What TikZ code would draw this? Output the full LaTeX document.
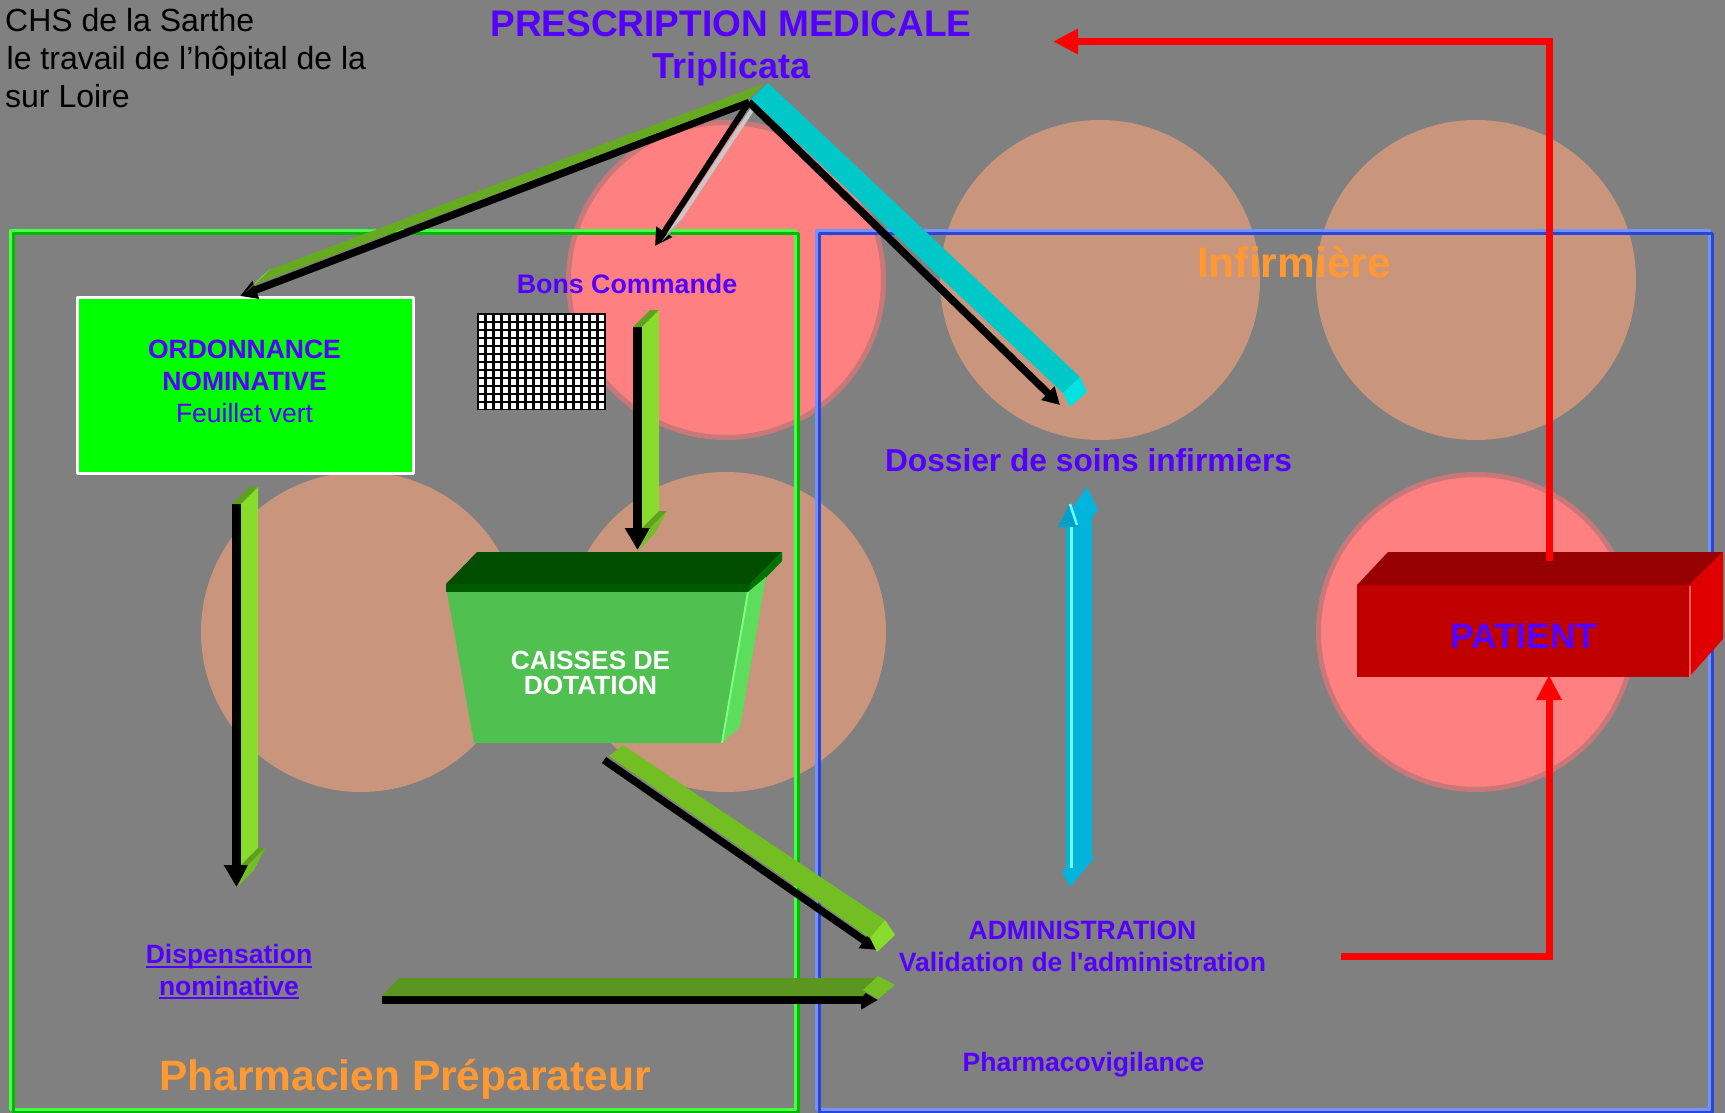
\documentclass[tikz,border=0pt]{standalone}
\usepackage{fontspec}
\setmainfont{Liberation Sans}[Ligatures=TeXOff]
\usetikzlibrary{arrows.meta}

\definecolor{bgGray}{RGB}{128,128,128}
\definecolor{txtBlue}{RGB}{85,0,255}
\definecolor{roleOrange}{RGB}{255,153,51}
\definecolor{pinkDisc}{RGB}{255,128,128}
\definecolor{pinkRim}{RGB}{200,120,120}
\definecolor{tanDisc}{RGB}{201,150,125}
\definecolor{frameGreen}{RGB}{70,255,70}
\definecolor{frameGreenDk}{RGB}{0,185,0}
\definecolor{frameBlue}{RGB}{115,145,255}
\definecolor{frameBlueDk}{RGB}{40,70,220}
\definecolor{ordGreen}{RGB}{0,255,0}
\definecolor{barGreen}{RGB}{102,170,34}
\definecolor{barLime}{RGB}{136,221,44}
\definecolor{barDeep}{RGB}{95,160,30}
\definecolor{barMid}{RGB}{115,190,35}
\definecolor{barOlive}{RGB}{90,150,32}
\definecolor{barGray}{RGB}{200,200,200}
\definecolor{cyanBar}{RGB}{0,200,200}
\definecolor{cyanCap}{RGB}{0,225,225}
\definecolor{skyBar}{RGB}{0,180,220}
\definecolor{skyDark}{RGB}{0,160,200}
\definecolor{skyLight}{RGB}{110,255,255}
\definecolor{caisseTop}{RGB}{0,77,0}
\definecolor{caisseSlab}{RGB}{0,90,0}
\definecolor{caisseSlabSide}{RGB}{0,115,0}
\definecolor{caisseFront}{RGB}{80,192,80}
\definecolor{caisseSide}{RGB}{92,222,92}
\definecolor{caisseEdge}{RGB}{125,255,125}
\definecolor{patFront}{RGB}{192,0,0}
\definecolor{patTop}{RGB}{150,0,0}
\definecolor{patSide}{RGB}{224,0,0}
\definecolor{patEdge}{RGB}{255,90,90}

\tikzset{
  lbl/.style={inner sep=0pt, anchor=base, text=txtBlue, font=\fontsize{26.5}{30}\selectfont\bfseries},
  role/.style={inner sep=0pt, anchor=base, text=roleOrange, font=\fontsize{42.5}{48}\selectfont\bfseries},
  chs/.style={inner sep=0pt, anchor=base west, text=black, font=\fontsize{32}{36}\selectfont},
  blackfront/.style={black, line width=#1, -{Triangle[length=17pt,width=18pt]}},
  blackfront/.default=7.5pt,
  blackdrop/.style={black, line width=9pt, -{Triangle[length=22pt,width=24pt]}},
  redline/.style={red, line width=7pt, line join=miter, -{Triangle[length=25pt,width=24pt]}},
  pinkdisc/.style={fill=pinkDisc, draw=pinkRim, line width=5pt},
}

\begin{document}
\begin{tikzpicture}[x=1pt, y=-1pt, line join=round]
\useasboundingbox (0,0) rectangle (1725,1113);
\clip (0,0) rectangle (1725,1113);
\fill[bgGray] (0,0) rectangle (1725,1113);

% discs
\fill[tanDisc] (1100,280) circle (160);
\fill[tanDisc] (1476,280) circle (160);
\fill[tanDisc] (361,632) circle (160);
\fill[tanDisc] (726,632) circle (160);
\filldraw[pinkdisc] (726,280) circle (157.5);
\filldraw[pinkdisc] (1476,632) circle (157.5);

% frames
\draw[frameGreen, line width=3pt] (10.5,230.5) rectangle (795.5,1109.5);
\draw[frameGreenDk, line width=3pt] (13.5,233.5) rectangle (798.5,1112.5);
\draw[frameBlue, line width=3pt] (816.5,230.5) rectangle (1709.5,1109.5);
\draw[frameBlueDk, line width=3pt] (819.5,233.5) rectangle (1712.5,1112.5);

% ordonnance sheet and grid
\node[draw=white, fill=ordGreen, line width=3pt, inner sep=0pt,
  minimum width=336pt, minimum height=176pt] (ordo) at (245,385) {};
\fill[black] (476.5,313) rectangle (605.5,409.5);
\foreach \i in {0,...,15}
  \foreach \j in {0,...,11}
    \fill[white] ({478.5+8*\i},{315+8*\j}) rectangle ++(5.5,5.5);

% caisse
\fill[caisseTop] (446,584) -- (477,552) -- (782,552) -- (750,584) -- cycle;
\fill[caisseSlab] (446,584) rectangle (750,592);
\fill[caisseSlabSide] (750,584) -- (782,552) -- (782,561) -- (752,592) -- (750,592) -- cycle;
\fill[caisseFront] (447,592) -- (748,592) -- (722,743) -- (474,743) -- cycle;
\fill[caisseSide] (748,592) -- (766,577) -- (740,727) -- (722,743) -- cycle;
\draw[caisseEdge, line width=2pt] (748,592) -- (722,743);

% patient
\fill[patFront] (1357,585) rectangle (1689,677);
\fill[patTop] (1357,585) -- (1388,552) -- (1723,552) -- (1689,585) -- cycle;
\fill[patSide] (1689,585) -- (1723,552) -- (1723,639) -- (1689,677) -- cycle;
\draw[patEdge, line width=2pt] (1690,586) -- (1690,677);

% arrow ends
\coordinate (apex) at (749,102);
\coordinate (ordoTip) at (240,296);
\coordinate (bonsTip) at (655,246);
\coordinate (dossierTip) at (1060,405);
\coordinate (bonsTail) at (637.5,327);
\coordinate (caisseTip) at (637.5,550);
\coordinate (ordoTail) at (236.5,504);
\coordinate (dispTip) at (236.5,887);
\coordinate (caisseTail) at (604,760);
\coordinate (adminTipA) at (878,950);
\coordinate (dispTail) at (382,1000);
\coordinate (adminTipB) at (878,1000);
\coordinate (patTopPt) at (1549,561);
\coordinate (presTip) at (1053,41.5);
\coordinate (adminTail) at (1341,956);
\coordinate (patBotPt) at (1549,675);

% prescription -> ordonnance
\draw[blackfront] (apex) -- (ordoTip);
\fill[barGreen] (749,98.5) -- (255,284.5) -- (270,269.5) -- (764,83.5) -- cycle;
\fill[barLime] (255,284) -- (246,292) -- (261,277) -- (270,269) -- cycle;
% prescription -> bons
\draw[blackfront=6pt] (apex) -- (bonsTip);
\fill[barGray] (752,106) -- (667,234) -- (682,219) -- (767,91) -- cycle;
\fill[barGray!85!black] (667,234) -- (662,241) -- (677,226) -- (682,219) -- cycle;
% prescription -> dossier
\draw[blackfront] (apex) -- (dossierTip);
\fill[cyanBar] (751,99) -- (1063,393) -- (1080,377) -- (768,83) -- cycle;
\fill[cyanCap] (1063,393) -- (1080,377) -- (1087,392) -- (1070,407) -- cycle;

% bons -> caisse
\draw[blackdrop] (bonsTail) -- (caisseTip);
\fill[barDeep] (633,327) -- (642,327) -- (659,310) -- (650,310) -- cycle;
\fill[barLime] (642,327) -- (642,528) -- (659,511) -- (659,310) -- cycle;
\fill[barDeep] (642,528) -- (650,528) -- (667,511) -- (659,511) -- cycle;
\fill[barMid] (650,528) -- (667,511) -- (655,533) -- (638,550) -- cycle;

% ordonnance -> dispensation
\draw[blackdrop] (ordoTail) -- (dispTip);
\fill[barDeep] (232,504) -- (241,504) -- (258,487) -- (249,487) -- cycle;
\fill[barLime] (241,504) -- (241,865) -- (258,848) -- (258,487) -- cycle;
\fill[barDeep] (241,865) -- (248,865) -- (265,848) -- (258,848) -- cycle;
\fill[barMid] (248,865) -- (265,848) -- (254,870) -- (237,887) -- cycle;

% caisse -> administration
\draw[blackfront] (caisseTail) -- (adminTipA);
\fill[barMid] (609,756) -- (870,938) -- (885,920) -- (623,745) -- cycle;
\fill[barLime] (870,938) -- (885,920) -- (895,935) -- (877,952) -- cycle;

% dispensation -> administration
\draw[blackfront=8pt] (dispTail) -- (adminTipB);
\fill[barOlive] (382,996) -- (399,978) -- (878,978) -- (863,996) -- cycle;
\fill[barMid] (863,990) -- (878,976) -- (895,985) -- (878,999) -- cycle;

% dossier <-> administration
\fill[skyBar] (1066,527) -- (1058,527) -- (1087,487) -- (1098,510) -- (1092,517)
  -- (1092,857) -- (1095,857) -- (1070,887) -- (1062,872) -- (1066,868) -- cycle;
\fill[skyDark] (1058,527) -- (1070,503) -- (1078,527) -- cycle;
\draw[skyLight, line width=3pt] (1071,527) -- (1071,868);
\draw[skyLight, line width=2.5pt] (1070,504) -- (1077,525);

% patient loop
\draw[redline] (patTopPt) |- (presTip);
\draw[redline] (adminTail) -| (patBotPt);

% labels
\node[lbl, font=\fontsize{37}{42}\selectfont\bfseries] (presA) at (731,37) {PRESCRIPTION MEDICALE};
\node[lbl, font=\fontsize{36}{42}\selectfont\bfseries] (presB) at (731.5,79) {Triplicata};
\node[chs] (chsA) at (5,31.5) {CHS de la Sarthe};
\node[chs] (chsB) at (6.5,70) {le travail de l’hôpital de la};
\node[chs] (chsC) at (5,108) {sur Loire};
\node[lbl] (ordoA) at (244.5,358) {ORDONNANCE};
\node[lbl] (ordoB) at (244.5,390) {NOMINATIVE};
\node[lbl, font=\fontsize{26.5}{30}\selectfont] (ordoC) at (244.5,422) {Feuillet vert};
\node[lbl, font=\fontsize{26.8}{30}\selectfont\bfseries] (bons) at (627,293) {Bons Commande};
\node[lbl, text=white, font=\fontsize{26.3}{30}\selectfont\bfseries] (caisseA) at (590.5,669) {CAISSES DE};
\node[lbl, text=white, font=\fontsize{26.3}{30}\selectfont\bfseries] (caisseB) at (590.5,694) {DOTATION};
\node[lbl, font=\fontsize{31.7}{36}\selectfont\bfseries] (dossier) at (1088.5,471) {Dossier de soins infirmiers};
\node[role] (infirm) at (1294,277) {Infirmière};
\node[lbl, font=\fontsize{35.5}{40}\selectfont\bfseries] (patient) at (1524,648) {PATIENT};
\node[lbl] (adminA) at (1082.5,939) {ADMINISTRATION};
\node[lbl] (adminB) at (1082.5,971) {Validation de l'administration};
\node[lbl] (pharmaco) at (1083.5,1071) {Pharmacovigilance};
\node[lbl] (dispA) at (229,963) {Dispensation};
\node[lbl] (dispB) at (229,995) {nominative};
\draw[txtBlue, line width=2pt] ([yshift=-4pt]dispA.base west) -- ([yshift=-4pt]dispA.base east);
\draw[txtBlue, line width=2pt] ([yshift=-3pt]dispB.base west) -- ([yshift=-3pt]dispB.base east);
\node[role] (pharma) at (405,1090) {Pharmacien Préparateur};
\end{tikzpicture}
\end{document}
